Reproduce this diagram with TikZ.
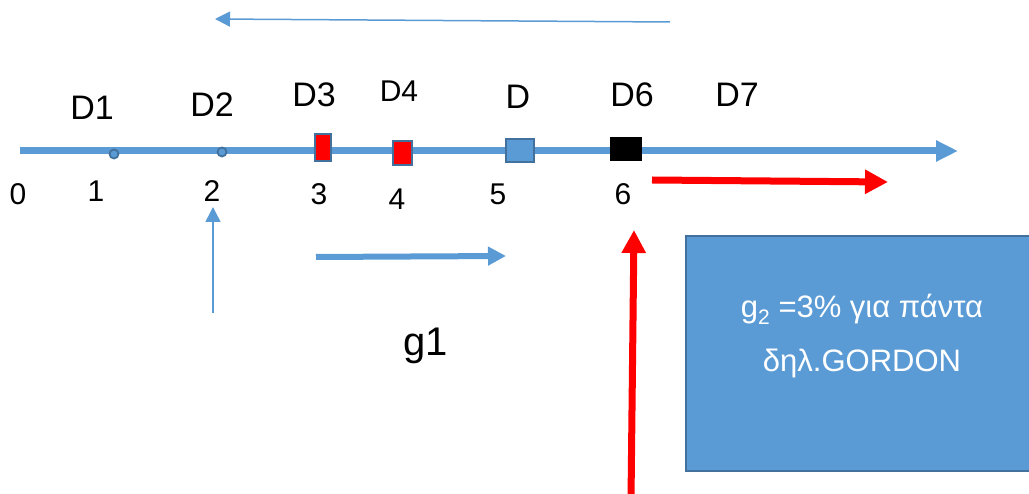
\documentclass[tikz,border=0pt]{standalone}
\usepackage{fontspec}
\setmainfont{Liberation Sans}
\usetikzlibrary{arrows.meta}
\definecolor{axblue}{HTML}{5B9BD5}
\definecolor{edgeblue}{HTML}{41719C}
\begin{document}
\begin{tikzpicture}[x=1pt,y=-1pt,
  lbl/.style={anchor=base,inner sep=0pt,font=\fontsize{34}{34}\selectfont},
  num/.style={anchor=base,inner sep=0pt,font=\fontsize{30}{30}\selectfont},
  dotmark/.style={circle,draw=edgeblue,fill=axblue,line width=1.8pt,minimum size=9pt,inner sep=0pt},
  redmark/.style={rectangle,draw=edgeblue,fill=red,line width=2pt,inner sep=0pt},
  bluemark/.style={rectangle,draw=edgeblue,fill=axblue,line width=2pt,inner sep=0pt},
  blackmark/.style={rectangle,fill=black,inner sep=0pt},
  axisline/.style={draw=axblue,line width=7pt,-{Triangle[length=22pt,width=20pt]}},
  thinblue/.style={draw=axblue,line width=1.5pt,-{Triangle[length=15pt,width=15pt]}},
  thickblue/.style={draw=axblue,line width=6pt,-{Triangle[length=18pt,width=18pt]}},
  thickred/.style={draw=red,line width=7pt,-{Triangle[length=23pt,width=23pt]}},
  gbox/.style={rectangle,draw=edgeblue,fill=axblue,line width=2pt,inner sep=0pt},
  boxtext/.style={anchor=base,inner sep=0pt,text=white,font=\fontsize{31}{31}\selectfont}
]
\useasboundingbox (0,0) rectangle (1029,494);
\clip (0,0) rectangle (1029,494);

% top arrow
\coordinate (t0) at (670,22);
\coordinate (t1) at (215,19);
\draw[thinblue] (t0) -- (t1);

% axis
\coordinate (a0) at (20,151);
\coordinate (a1) at (958,151);
\draw[axisline] (a0) -- (a1);

% markers
\node[dotmark] (m1) at (114,154) {};
\node[dotmark] (m2) at (222,152) {};
\node[redmark,minimum width=16pt,minimum height=27pt] (m3) at (323,147.5) {};
\node[redmark,minimum width=19pt,minimum height=24pt] (m4) at (402.5,153) {};
\node[bluemark,minimum width=28pt,minimum height=23pt] (m5) at (520,150.5) {};
\node[blackmark,minimum width=32pt,minimum height=24pt] (m6) at (626,149) {};

% D labels
\node[lbl] (d1) at (92,120) {D1};
\node[lbl] (d2) at (212,117) {D2};
\node[lbl] (d3) at (314,107) {D3};
\node[lbl,font=\fontsize{30}{30}\selectfont] (d4) at (399,102) {D4};
\node[lbl] (d5) at (518,109) {D};
\node[lbl] (d6) at (632,107) {D6};
\node[lbl] (d7) at (737,107) {D7};

% numbers
\node[num] (n0) at (18,205) {0};
\node[num] (n1) at (96,202) {1};
\node[num] (n2) at (212,202) {2};
\node[num] (n3) at (319,205) {3};
\node[num] (n4) at (397,210) {4};
\node[num] (n5) at (498,205) {5};
\node[num] (n6) at (623,205) {6};

% up arrow under 2
\coordinate (u0) at (213,313);
\coordinate (u1) at (213,207);
\draw[thinblue] (u0) -- (u1);

% thick blue arrow
\coordinate (b0) at (316,257);
\coordinate (b1) at (506,256);
\draw[thickblue] (b0) -- (b1);

% g1
\node[anchor=base,inner sep=0pt,font=\fontsize{40}{40}\selectfont] (g1) at (426,356) {g1};

% red horizontal arrow
\coordinate (r0) at (652,180);
\coordinate (r1) at (888,182);
\draw[thickred] (r0) -- (r1);

% box
\node[gbox,minimum width=352pt,minimum height=235pt] (box) at (862,353.5) {};
\node[boxtext] (bt1) at (862,318) {g\raisebox{-0.2em}{\fontsize{21}{21}\selectfont 2} =3\% για πάντα};
\node[boxtext] (bt2) at (862,372) {δηλ.GORDON};

% red vertical arrow
\coordinate (v0) at (631,500);
\coordinate (v1) at (634,230);
\draw[thickred] (v0) -- (v1);
\end{tikzpicture}
\end{document}
